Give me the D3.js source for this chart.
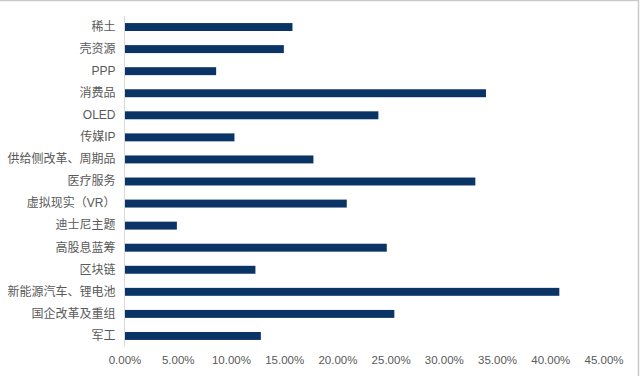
<!DOCTYPE html>
<html>
<head>
<meta charset="utf-8">
<script src="https://cdn.jsdelivr.net/npm/d3@7"></script>
<style>
  body { margin: 0; background: #fff; }
  svg { display: block; }
</style>
</head>
<body>
<div id="chart"></div>
<script>
// categories top to bottom
const categories = ["稀土", "壳资源", "PPP", "消费品", "OLED", "传媒IP", "供给侧改革、周期品",
    "医疗服务", "虚拟现实（VR）", "迪士尼主题", "高股息蓝筹", "区块链", "新能源汽车、锂电池",
    "国企改革及重组", "军工"];
const values = [0.1578, 0.1497, 0.0861, 0.3396, 0.2385, 0.1033, 0.1775,
    0.3296, 0.2088, 0.0492, 0.2464, 0.1230, 0.4085, 0.2535, 0.1281];
const xTicks = [0, 0.05, 0.10, 0.15, 0.20, 0.25, 0.30, 0.35, 0.40, 0.45];

const W = 640, H = 376;
const margin = { top: 16, right: 36, bottom: 29, left: 124.5 };
const width = 603.5 - margin.left,
    height = 347 - margin.top;

const svg = d3.select("#chart").append("svg")
    .attr("width", W)
    .attr("height", H);

// outer frame (only top and right edges visible)
svg.append("rect")
    .attr("x", -2).attr("y", 0.5)
    .attr("width", 640.5).attr("height", H + 2)
    .attr("fill", "none")
    .attr("stroke", "#c9c9c9")
    .attr("stroke-width", 1.5);

const g = svg.append("g")
    .attr("transform", `translate(${margin.left},${margin.top})`);

const x = d3.scaleLinear().domain([0, 0.45]).range([0, width]);
const y = d3.scaleBand().domain(categories).range([0, height]).paddingInner(0.64).paddingOuter(0.32);

const font = "'Liberation Sans', Arial, 'Noto Sans CJK SC', sans-serif";

// bars
g.selectAll("rect.bar")
    .data(categories)
    .enter().append("rect")
    .attr("class", "bar")
    .attr("x", 0)
    .attr("y", d => y(d))
    .attr("width", (d, i) => x(values[i]))
    .attr("height", y.bandwidth())
    .attr("fill", "#0a3366");

// y axis line
g.append("line")
    .attr("x1", 0).attr("x2", 0)
    .attr("y1", 0).attr("y2", height)
    .attr("stroke", "#d9d9d9")
    .attr("stroke-width", 1);

// category labels
const yAxis = g.append("g")
    .call(d3.axisLeft(y).tickSize(0).tickPadding(9));
yAxis.select(".domain").remove();
yAxis.selectAll("text")
    .attr("fill", "#595959")
    .style("font-family", font)
    .style("font-size", "12px");

// x tick labels
const xAxis = g.append("g")
    .attr("transform", `translate(0,${height})`)
    .call(d3.axisBottom(x).tickValues(xTicks).tickSize(0).tickPadding(9).tickFormat(d3.format(".2%")));
xAxis.select(".domain").remove();
xAxis.selectAll("text")
    .attr("fill", "#595959")
    .style("font-family", font)
    .style("font-size", "11.5px");
</script>
</body>
</html>
